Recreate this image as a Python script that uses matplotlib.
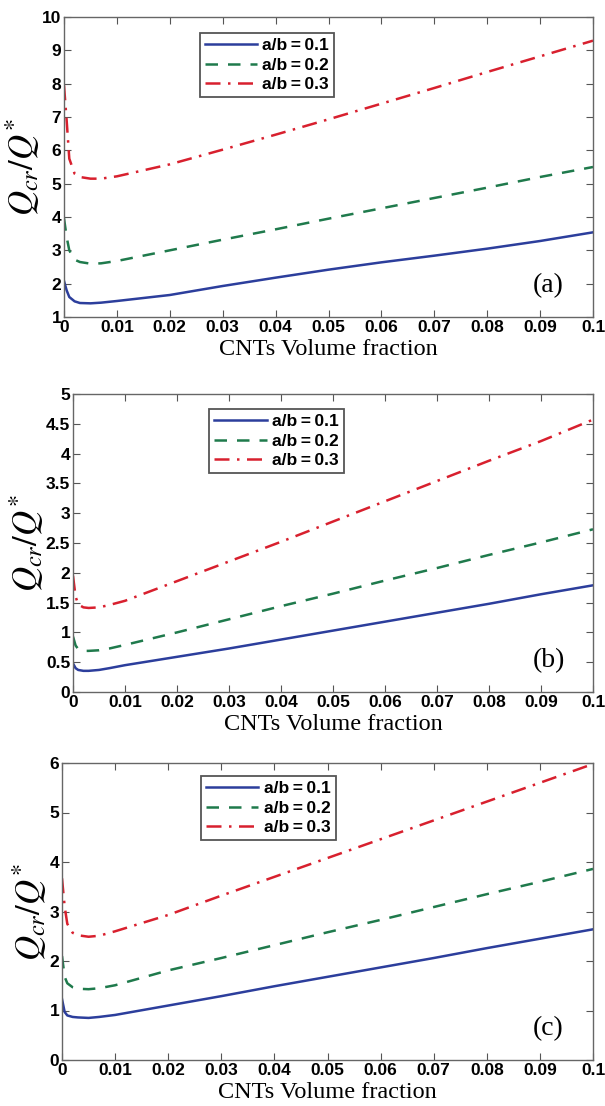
import matplotlib
matplotlib.use("Agg")
import matplotlib.pyplot as plt
from matplotlib.ticker import FuncFormatter

# CNTs volume fraction (x) shared by all panels
vf = [0, 0.0005, 0.001, 0.002, 0.003, 0.005, 0.007, 0.01,
      0.02, 0.03, 0.04, 0.05, 0.06, 0.07, 0.08, 0.09, 0.1]

labels = ["a/b\u2009=\u20090.1", "a/b\u2009=\u20090.2", "a/b\u2009=\u20090.3"]

# panel (a)
a_01 = [2.08, 1.8, 1.6, 1.47, 1.42, 1.41, 1.43, 1.48,
        1.66, 1.93, 2.18, 2.42, 2.64, 2.84, 3.05, 3.28, 3.54]
a_02 = [3.96, 3.4, 3.0, 2.72, 2.65, 2.6, 2.61, 2.68,
        3.0, 3.32, 3.63, 3.95, 4.26, 4.57, 4.88, 5.2, 5.5]
a_03 = [7.95, 6.9, 5.75, 5.3, 5.2, 5.15, 5.15, 5.22,
        5.58, 6.02, 6.47, 6.93, 7.4, 7.87, 8.35, 8.82, 9.29]

# panel (b)
b_01 = [0.48, 0.4, 0.37, 0.355, 0.355, 0.37, 0.4, 0.45,
        0.59, 0.73, 0.88, 1.03, 1.18, 1.33, 1.48, 1.64, 1.79]
b_02 = [0.93, 0.78, 0.72, 0.69, 0.69, 0.7, 0.73, 0.79,
        1.0, 1.22, 1.44, 1.65, 1.87, 2.08, 2.3, 2.51, 2.73]
b_03 = [1.95, 1.6, 1.47, 1.42, 1.41, 1.42, 1.46, 1.53,
        1.86, 2.19, 2.52, 2.86, 3.2, 3.54, 3.88, 4.21, 4.57]

# panel (c)
c_01 = [1.23, 0.97, 0.9, 0.87, 0.86, 0.85, 0.87, 0.91,
        1.1, 1.29, 1.49, 1.68, 1.87, 2.06, 2.26, 2.45, 2.64]
c_02 = [2.1, 1.68, 1.55, 1.47, 1.44, 1.43, 1.45, 1.51,
        1.81, 2.06, 2.32, 2.58, 2.83, 3.09, 3.35, 3.6, 3.86]
c_03 = [3.67, 3.1, 2.75, 2.57, 2.52, 2.49, 2.51, 2.6,
        2.93, 3.32, 3.7, 4.08, 4.46, 4.84, 5.22, 5.6, 5.98]

plt.rcParams["mathtext.fontset"] = "stix"

fig = plt.figure(figsize=(6.05, 11.06), dpi=100)

panels = [
    # rect, series, ylim, ystep, tag, legend anchor
    ([64/605, 1 - 317/1106, 529/605, 300/1106], [a_01, a_02, a_03], (1, 10), 1, "(a)", (0.257, 0.947)),
    ([73/605, 1 - 692/1106, 520/605, 298/1106], [b_01, b_02, b_03], (0, 5), 0.5, "(b)", (0.262, 0.95)),
    ([62/605, 1 - 1060/1106, 531/605, 297/1106], [c_01, c_02, c_03], (0, 6), 1, "(c)", (0.262, 0.957)),
]

colors = ["#2c3e9c", "#1f7a4c", "#d8202e"]
styles = ["-", (0, (5, 4)), (0, (6, 3, 1, 3))]

fmt = FuncFormatter(lambda v, p: "%g" % round(v, 3))

for rect, series, ylim, ystep, tag, anchor in panels:
    ax = fig.add_axes(rect)
    for ys, col, ls, lab in zip(series, colors, styles, labels):
        ax.plot(vf, ys, color=col, linestyle=ls, linewidth=1.8, label=lab)
    ax.set_xlim(0, 0.1)
    ax.set_ylim(*ylim)
    ax.set_xticks([i * 0.01 for i in range(11)])
    n = int(round((ylim[1] - ylim[0]) / ystep))
    ax.set_yticks([ylim[0] + i * ystep for i in range(n + 1)])
    ax.xaxis.set_major_formatter(fmt)
    ax.yaxis.set_major_formatter(fmt)
    ax.tick_params(direction="in", top=True, right=True, length=5, width=0.8,
                   color="#555555", labelsize=12.5, pad=2)
    for lbl in ax.get_xticklabels() + ax.get_yticklabels():
        lbl.set_fontweight("bold")
        lbl.set_family("Liberation Sans")
    for sp in ax.spines.values():
        sp.set_color("#666666")
        sp.set_linewidth(1.0)
    ax.set_xlabel("CNTs Volume fraction", family="Liberation Serif", fontsize=17.5, labelpad=3)
    ax.set_ylabel(r"$Q_{cr}/Q^{*}$", fontsize=25, labelpad=0)
    ax.text(0.915, 0.105, tag, transform=ax.transAxes, family="Liberation Serif",
            fontsize=20, ha="center", va="center")
    leg = ax.legend(loc="upper left", bbox_to_anchor=anchor, borderaxespad=0,
                    prop={"family": "Liberation Sans", "weight": "bold", "size": 12.5},
                    handlelength=3.0, handletextpad=0.3, labelspacing=0.25,
                    borderpad=0.3, fancybox=False, framealpha=1)
    leg.get_frame().set_edgecolor("#555555")
    leg.get_frame().set_linewidth(1.3)

fig.savefig("out.png", dpi=100)
